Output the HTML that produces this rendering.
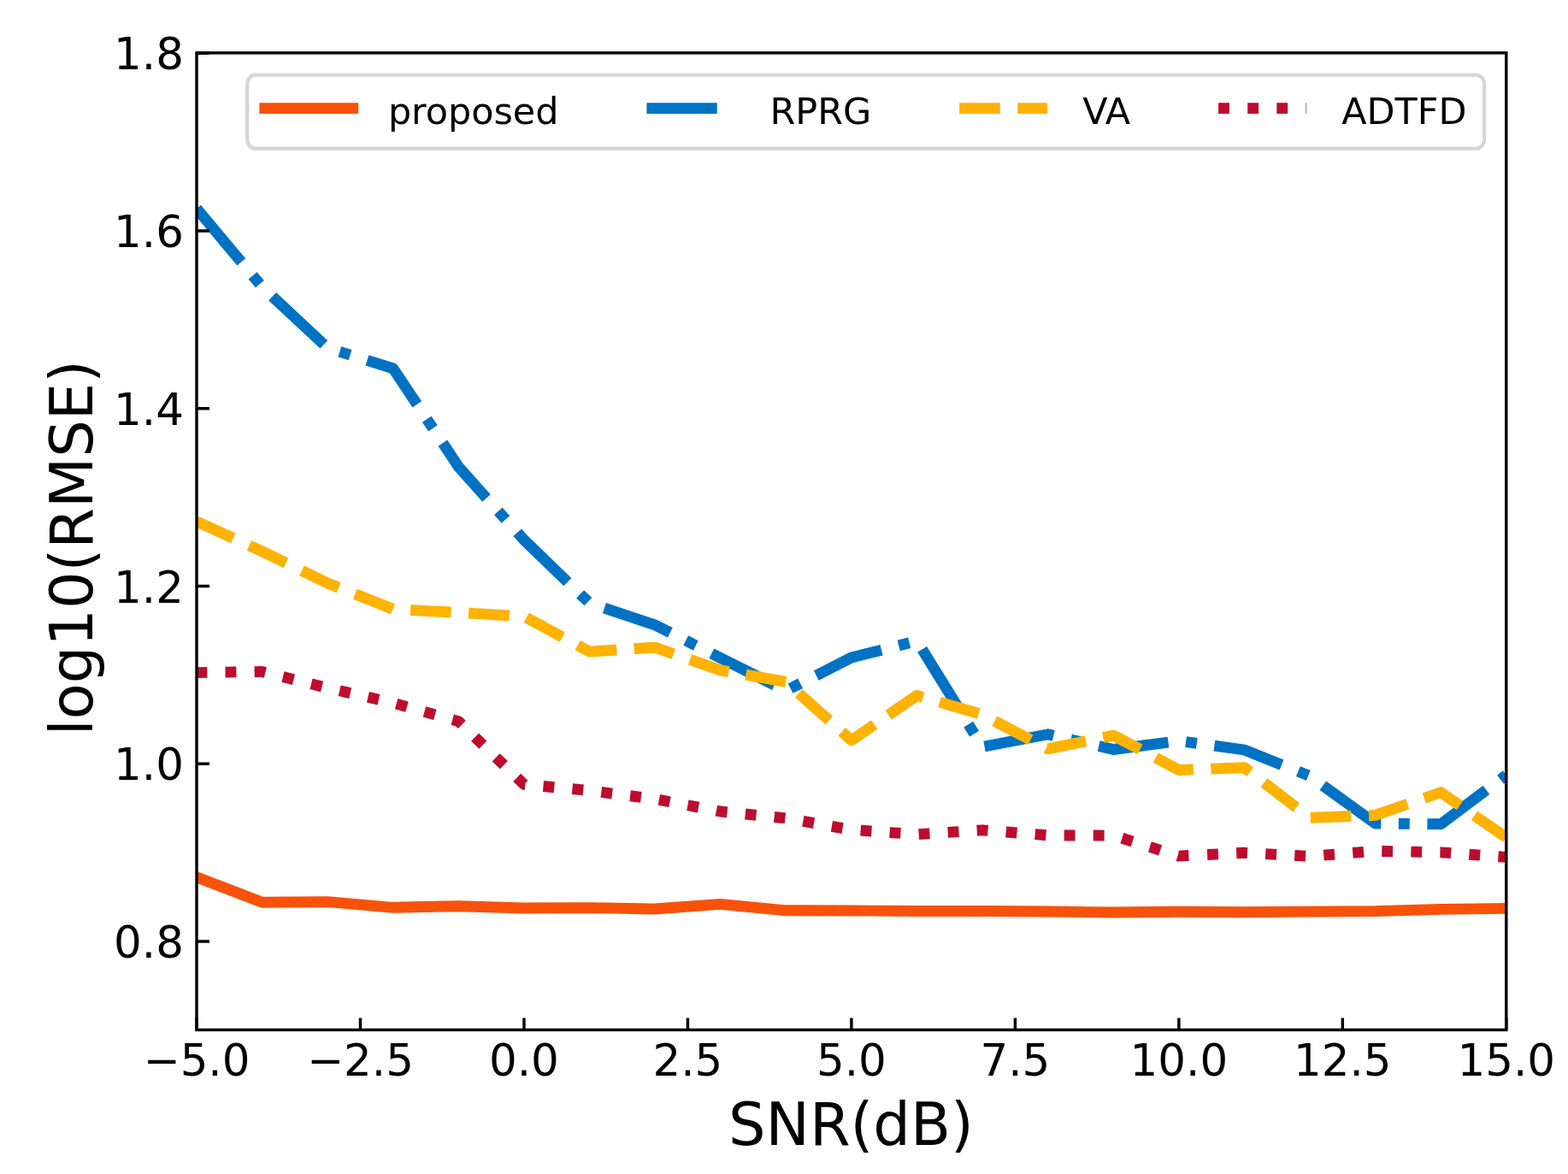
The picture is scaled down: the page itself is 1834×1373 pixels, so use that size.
<!DOCTYPE html>
<html><head><meta charset="utf-8"><title>log10(RMSE) vs SNR(dB)</title>
<style>html,body{margin:0;padding:0;background:#fff;} body{width:1834px;height:1373px;overflow:hidden;} svg{display:block;}</style>
</head><body>
<svg width="1834" height="1373" viewBox="0 0 1834 1373">
<rect x="0" y="0" width="1834" height="1373" fill="#ffffff"/>
<defs><clipPath id="ax"><rect x="230.0" y="61.85" width="1531.80" height="1142.60"/></clipPath></defs>
<g clip-path="url(#ax)" fill="none">
<path d="M230.00,1025.80 L306.59,1055.20 L383.18,1054.70 L459.77,1061.30 L536.36,1059.70 L612.95,1062.00 L689.54,1061.60 L766.13,1063.00 L842.72,1057.30 L919.31,1064.80 L995.90,1065.00 L1072.49,1065.50 L1149.08,1065.50 L1225.67,1066.00 L1302.26,1067.00 L1378.85,1066.20 L1455.44,1066.70 L1532.03,1066.10 L1608.62,1065.60 L1685.21,1063.40 L1761.80,1062.40" stroke="#F8520A" stroke-width="12.867" stroke-linecap="square" stroke-linejoin="round"/>
<path d="M230.00,244.00 L306.59,335.50 L383.18,406.90 L459.77,430.80 L536.36,546.00 L612.95,631.50 L689.54,705.30 L766.13,730.90 L842.72,769.50 L919.31,807.80 L995.90,769.10 L1072.49,749.60 L1149.08,873.50 L1225.67,858.70 L1302.26,876.50 L1378.85,866.40 L1455.44,877.00 L1532.03,907.60 L1608.62,963.00 L1685.21,963.80 L1761.80,906.50" stroke="#0072C3" stroke-width="12.867" stroke-linecap="butt" stroke-linejoin="round" stroke-dasharray="82.35 20.73 12.87 20.73 82.35 20.74 12.87 20.75 82.35 20.75 12.87 20.75 82.35 20.70 12.87 20.56 82.35 20.56 12.87 20.56 82.35 20.56 12.87 20.83 82.35 20.87 12.87 20.87 82.35 20.83 12.87 20.67 82.35 20.67 12.87 20.67 82.35 20.70 12.87 20.72 82.35 20.72 12.87 20.78 82.35 20.81 12.87 20.72 82.35 20.59 12.87 20.59 82.35 20.59 12.87 20.59 82.35 20.59 12.87 20.59 82.35 20.59 12.87 20.59" stroke-dashoffset="0.91"/>
<path d="M230.00,609.80 L306.59,644.90 L383.18,682.00 L459.77,712.40 L536.36,716.50 L612.95,720.90 L689.54,762.10 L766.13,757.10 L842.72,783.90 L919.31,797.40 L995.90,865.80 L1072.49,813.40 L1149.08,835.80 L1225.67,875.90 L1302.26,860.00 L1378.85,900.50 L1455.44,897.70 L1532.03,956.40 L1608.62,953.40 L1685.21,926.70 L1761.80,979.40" stroke="#FFB200" stroke-width="12.867" stroke-linecap="butt" stroke-linejoin="round" stroke-dasharray="47.61 20.55 47.61 20.55 47.61 20.55 47.61 20.55 47.61 20.55 47.61 20.55 47.61 20.35 47.61 20.32 47.61 20.38 47.61 20.20 47.61 20.04 47.61 20.01 47.61 20.06 47.61 20.31 47.61 20.51 47.61 20.60 47.61 20.60 47.61 20.60 47.61 20.60 47.61 20.60 47.61 20.60 47.61 20.60 47.61 20.60 47.61 20.60 47.61 20.60 47.61 20.60 47.61 20.59 47.61 20.59" stroke-dashoffset="0.56"/>
<path d="M230.00,786.60 L306.59,785.50 L383.18,804.60 L459.77,822.00 L536.36,843.60 L612.95,917.40 L689.54,924.60 L766.13,934.50 L842.72,949.00 L919.31,956.90 L995.90,970.40 L1072.49,975.80 L1149.08,970.80 L1225.67,976.90 L1302.26,977.10 L1378.85,1001.10 L1455.44,997.30 L1532.03,1001.50 L1608.62,995.30 L1685.21,996.80 L1761.80,1002.40" stroke="#BE0C2D" stroke-width="12.867" stroke-linecap="butt" stroke-linejoin="round" stroke-dasharray="12.87 21.22 12.87 21.22 12.87 21.22 12.87 21.22 12.87 21.22 12.87 21.22 12.87 21.22 12.87 21.22 12.87 21.22 12.87 21.22 12.87 21.22 12.87 21.22 12.87 21.22 12.87 21.22 12.87 21.22 12.87 21.22 12.87 21.22 12.87 21.22 12.87 21.22 12.87 21.22 12.87 21.22 12.87 21.22 12.87 21.22 12.87 21.22 12.87 21.22 12.87 21.22 12.87 21.22 12.87 21.22 12.87 21.22 12.87 21.22 12.87 21.22 12.87 21.22 12.87 21.22 12.87 21.22 12.87 21.40 12.87 21.76 12.87 21.22 12.87 21.22 12.87 21.22 12.87 21.22 12.87 21.22 12.87 21.22 12.87 21.22 12.87 21.22 12.87 21.22 12.87 21.22 12.87 21.22 12.87 21.22 12.87 21.22 12.87 21.22 12.87 21.22 12.87 21.22 12.87 21.23" stroke-dashoffset="0.55"/>
</g>
<path d="M230.00,1204.45 L230.00,1190.44 M421.48,1204.45 L421.48,1190.44 M612.95,1204.45 L612.95,1190.44 M804.42,1204.45 L804.42,1190.44 M995.90,1204.45 L995.90,1190.44 M1187.38,1204.45 L1187.38,1190.44 M1378.85,1204.45 L1378.85,1190.44 M1570.33,1204.45 L1570.33,1190.44 M1761.80,1204.45 L1761.80,1190.44 M230.00,1100.98 L245.01,1100.98 M230.00,893.23 L245.01,893.23 M230.00,685.49 L245.01,685.49 M230.00,477.74 L245.01,477.74 M230.00,270.00 L245.01,270.00 M230.00,62.25 L245.01,62.25" stroke="#000" stroke-width="3.431" fill="none"/>
<rect x="230.0" y="61.85" width="1531.80" height="1142.60" fill="none" stroke="#000" stroke-width="3.431" stroke-linejoin="miter" stroke-linecap="square"/>
<g font-family="'DejaVu Sans', 'Liberation Sans', sans-serif" fill="#000">
<text x="230.00" y="1258.0" font-size="51.47" text-anchor="middle">−5.0</text>
<text x="421.48" y="1258.0" font-size="51.47" text-anchor="middle">−2.5</text>
<text x="612.95" y="1258.0" font-size="51.47" text-anchor="middle">0.0</text>
<text x="804.42" y="1258.0" font-size="51.47" text-anchor="middle">2.5</text>
<text x="995.90" y="1258.0" font-size="51.47" text-anchor="middle">5.0</text>
<text x="1187.38" y="1258.0" font-size="51.47" text-anchor="middle">7.5</text>
<text x="1378.85" y="1258.0" font-size="51.47" text-anchor="middle">10.0</text>
<text x="1570.33" y="1258.0" font-size="51.47" text-anchor="middle">12.5</text>
<text x="1761.80" y="1258.0" font-size="51.47" text-anchor="middle">15.0</text>
<text x="214.9" y="1120.08" font-size="51.47" text-anchor="end">0.8</text>
<text x="214.9" y="912.33" font-size="51.47" text-anchor="end">1.0</text>
<text x="214.9" y="704.59" font-size="51.47" text-anchor="end">1.2</text>
<text x="214.9" y="496.84" font-size="51.47" text-anchor="end">1.4</text>
<text x="214.9" y="289.10" font-size="51.47" text-anchor="end">1.6</text>
<text x="214.9" y="81.35" font-size="51.47" text-anchor="end">1.8</text>
<text x="995.4" y="1338.5" font-size="68.62" text-anchor="middle">SNR(dB)</text>
<text transform="translate(108.1,640.7) rotate(-90)" x="0" y="0" font-size="68.62" text-anchor="middle">log10(RMSE)</text>
</g>
<rect x="289.19" y="87.58" width="1446.87" height="86.32" rx="10.29" ry="10.29" fill="#ffffff" fill-opacity="0.8" stroke="#D6D6D6" stroke-width="4.289"/>
<path d="M309.78,126.6 L412.71,126.6" stroke="#F8520A" stroke-width="12.867" stroke-linecap="square" fill="none"/>
<text x="453.89" y="144.7" font-family="'DejaVu Sans', 'Liberation Sans', sans-serif" font-size="42.89" fill="#000">proposed</text>
<path d="M756.40,126.6 L859.33,126.6" stroke="#0072C3" stroke-width="12.867" stroke-linecap="butt" fill="none" stroke-dasharray="82.35 20.59 12.87 20.59"/>
<text x="900.50" y="144.7" font-family="'DejaVu Sans', 'Liberation Sans', sans-serif" font-size="42.89" fill="#000">RPRG</text>
<path d="M1122.14,126.6 L1225.07,126.6" stroke="#FFB200" stroke-width="12.867" stroke-linecap="butt" fill="none" stroke-dasharray="47.61 20.59"/>
<text x="1266.24" y="144.7" font-family="'DejaVu Sans', 'Liberation Sans', sans-serif" font-size="42.89" fill="#000">VA</text>
<path d="M1425.11,126.6 L1528.05,126.6" stroke="#BE0C2D" stroke-width="12.867" stroke-linecap="butt" fill="none" stroke-dasharray="12.87 21.23"/>
<text x="1569.22" y="144.7" font-family="'DejaVu Sans', 'Liberation Sans', sans-serif" font-size="42.89" fill="#000">ADTFD</text>
</svg>
</body></html>
